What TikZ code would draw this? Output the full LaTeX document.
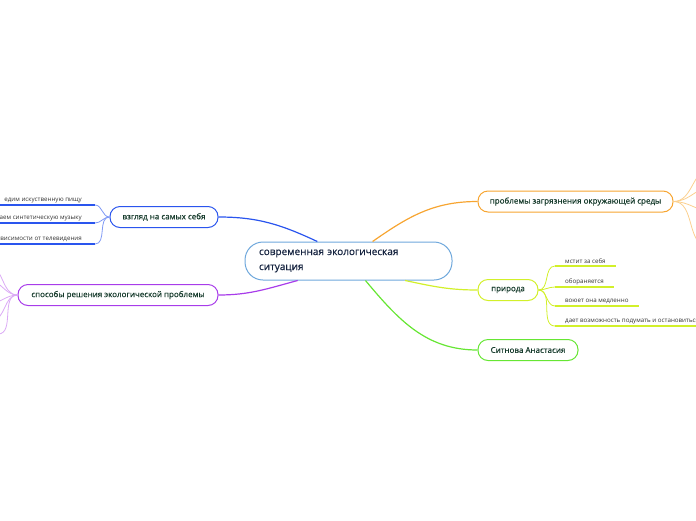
\documentclass[tikz,border=0pt]{standalone}
\usepackage{fontspec}
\setmainfont{Open Sans}
\newfontfamily\semifont[FakeBold=0.4]{Open Sans}
\usetikzlibrary{positioning}

\definecolor{mainline}{HTML}{6FA8DC}
\definecolor{orangeline}{HTML}{F7A531}
\definecolor{orangeleaf}{HTML}{FBD08E}
\definecolor{limeline}{HTML}{D2F02A}
\definecolor{greenline}{HTML}{66E633}
\definecolor{blueline}{HTML}{2A55EE}
\definecolor{purpleline}{HTML}{A83CEA}
\definecolor{purpleleaf}{HTML}{DBAAF5}
\definecolor{maintext}{HTML}{15233F}
\definecolor{topictext}{HTML}{163B2C}
\definecolor{leaftext}{HTML}{333333}

\begin{document}
\begin{tikzpicture}[x=1pt,y=-1pt,
    topic/.style={draw, line width=1pt, fill=white, rounded corners=10pt,
        minimum height=21pt, inner sep=0pt, text=topictext,
        font=\semifont\fontsize{8}{10}\selectfont},
    leaf/.style={inner xsep=10pt, inner ysep=2pt, text=leaftext,
        font=\fontsize{6.2}{7.5}\selectfont},
    branch/.style={line width=1.2pt},
    twig/.style={line width=0.8pt},
    underline/.style={line width=1.6pt}]
    \useasboundingbox (0,0) rectangle (696,520);
    \clip (0,0) rectangle (696,520);

    % central topic
    \node [draw=mainline, line width=1pt, fill=white, rounded corners=18pt,
        minimum width=207pt, minimum height=38pt, text width=179pt, align=left,
        inner sep=0pt, text=maintext, font=\semifont\fontsize{10}{15}\selectfont]
        (main) at (348.5,261) {современная экологическая\\ситуация};

    % main topics
    \node [topic, draw=orangeline, minimum width=195pt] (pollution) at (575.5,201.5)
        {проблемы загрязнения окружающей среды};
    \node [topic, draw=limeline, minimum width=60pt] (nature) at (508,290) {природа};
    \node [topic, draw=greenline, minimum width=100pt] (author) at (528,350)
        {Ситнова Анастасия};
    \node [topic, draw=blueline, minimum width=108pt] (self) at (164,217)
        {взгляд на самых себя};
    \node [topic, draw=purpleline, minimum width=200pt] (ways) at (118,295)
        {способы решения экологической проблемы};

    \draw [branch, orangeline] (main.39) to[out=35,in=180] (pollution.west);
    \draw [branch, limeline] (main.-19) to[out=-12,in=180] (nature.west);
    \draw [branch, greenline] (main.-49) to[out=-50,in=180] (author.west);
    \draw [branch, blueline] (main.148) to[out=155,in=0] (self.east);
    \draw [branch, purpleline] (main.201) to[out=195,in=0] (ways.east);

    % leaves of nature
    \node [leaf, anchor=south west] (n1) at (555,266) {мстит за себя};
    \node [leaf, anchor=south west] (n2) at (555,287) {обораняется};
    \node [leaf, anchor=south west] (n3) at (555,306) {воюет она медленно};
    \node [leaf, anchor=south west] (n4) at (555,326) {дает возможность подумать и остановиться};
    \foreach \n in {n1,n2,n3,n4} {
        \draw [twig, limeline] (nature.east) to[out=0,in=180] (\n.south west);
        \draw [underline, limeline] (\n.south west) -- (\n.south east);
    }

    % leaves of self
    \node [leaf, anchor=south east, inner xsep=13pt] (s1) at (95,205) {едим искуственную пищу};
    \node [leaf, anchor=south east, inner xsep=13pt] (s2) at (95,223) {слушаем синтетическую музыку};
    \node [leaf, anchor=south east, inner xsep=13pt] (s3) at (95,244) {в зависимости от телевидения};
    \foreach \n in {s1,s2,s3} {
        \draw [twig, blueline!60] (self.west) to[out=180,in=0] (\n.south east);
        \draw [underline, blueline] (\n.south east) -- (\n.south west);
    }

    % hidden leaves of ways
    \coordinate (w1) at (-12,266);
    \coordinate (w2) at (-12,280);
    \coordinate (w3) at (-12,304);
    \coordinate (w4) at (-8,320);
    \coordinate (w5) at (-2,334);
    \foreach \n in {w1,w2,w3,w4,w5}
        \draw [twig, purpleleaf] (ways.west) to[out=180,in=0] (\n);

    % hidden leaves of pollution
    \coordinate (p1) at (712,168);
    \coordinate (p2) at (714,186);
    \coordinate (p3) at (714,212);
    \coordinate (p4) at (708,246);
    \foreach \n in {p1,p2,p3,p4}
        \draw [twig, orangeleaf] (pollution.east) to[out=0,in=180] (\n);
\end{tikzpicture}
\end{document}
